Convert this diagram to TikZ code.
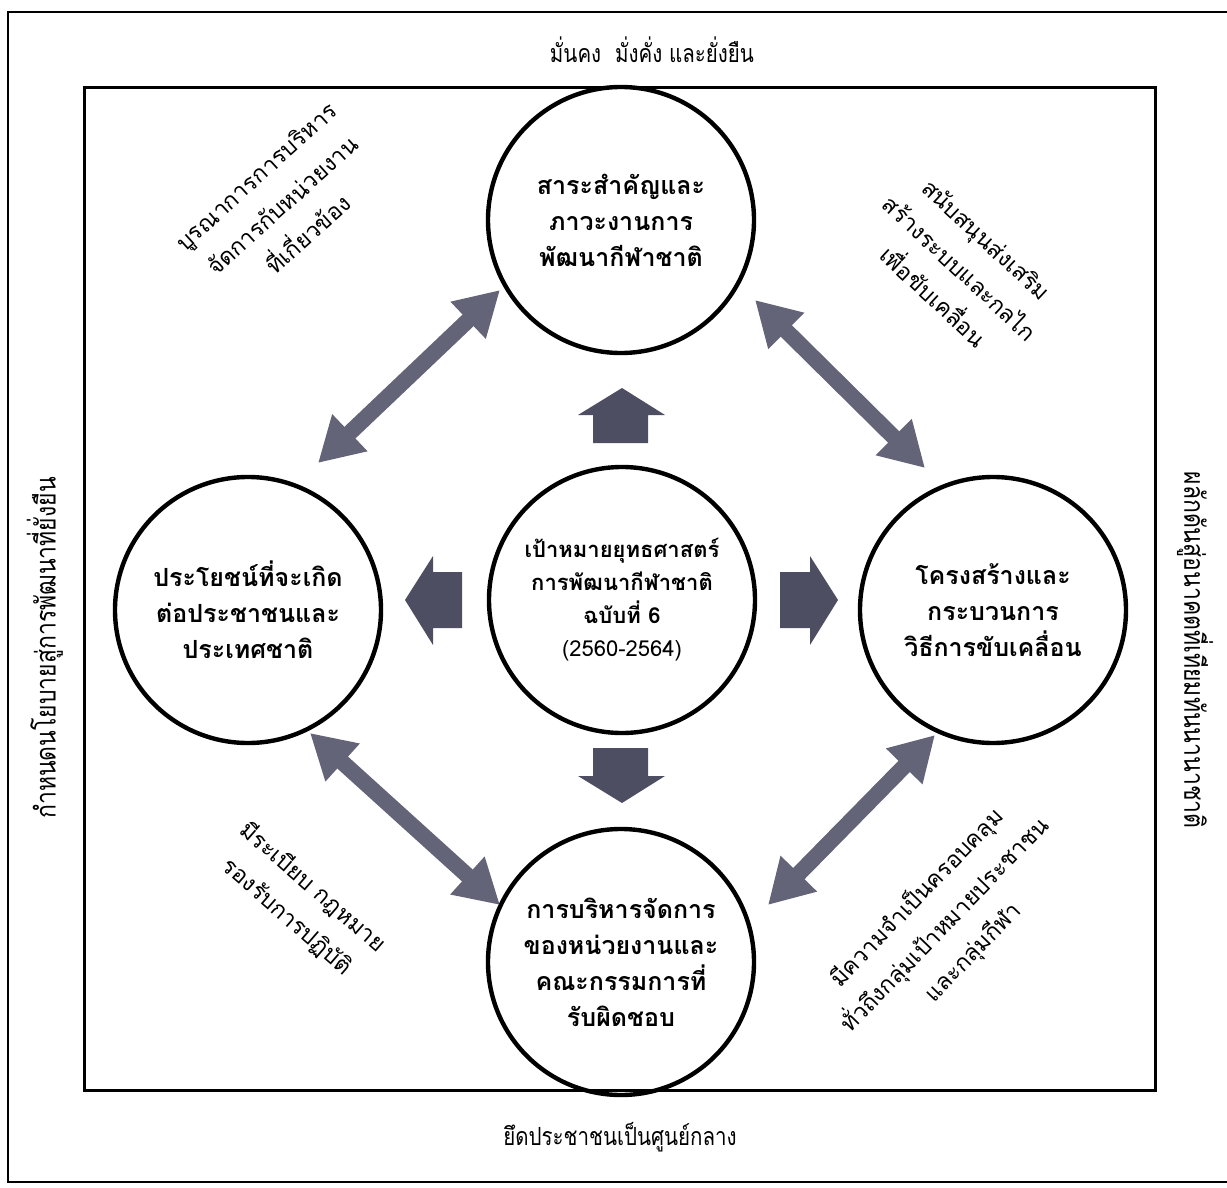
\documentclass[tikz,border=0pt]{standalone}
\usepackage{fontspec}
\newfontfamily\thai[Script=Thai]{Loma}
\newfontfamily\thaicond[Script=Thai,FakeStretch=0.82]{Loma}
\usetikzlibrary{arrows.meta}
\definecolor{arrcol}{RGB}{100,100,120}
\definecolor{blkcol}{RGB}{78,78,98}
\tikzset{
  circ/.style={circle, draw, line width=2.2pt, minimum size=133pt, inner sep=0pt,
    align=center, font=\thai\bfseries\fontsize{12.5}{18}\selectfont},
  centrecirc/.style={circ, font=\thai\bfseries\fontsize{11}{16.5}\selectfont},
  dbl/.style={draw=arrcol, line width=8pt,
    {Triangle[length=22pt,width=24pt,fill=arrcol]}-{Triangle[length=22pt,width=24pt,fill=arrcol]}},
  blk/.style={fill=blkcol},
  diag/.style={align=center, inner sep=0pt, font=\thai\fontsize{11.5}{19.5}\selectfont},
  edgetxt/.style={inner sep=0pt, font=\thaicond\fontsize{12.5}{15}\selectfont},
  sidetxt/.style={inner sep=0pt, font=\thaicond\fontsize{14}{16}\selectfont}
}
\begin{document}
\begin{tikzpicture}[x=0.5pt,y=-0.5pt]
\useasboundingbox (0,0) rectangle (1227,1188);
% frames
\draw[line width=1.3pt] (1227,12) -- (8,12) -- (8,1182) -- (1227,1182);
\draw[line width=1.5pt] (84,88) rectangle (1155,1090);
% edge texts
\node[edgetxt] (toptxt) at (652,50) {มั่นคง\ \ มั่งคั่ง และยั่งยืน};
\node[edgetxt] (bottxt) at (620,1137) {ยึดประชาชนเป็นศูนย์กลาง};
\node[sidetxt, rotate=90] (lefttxt) at (45,648) {กำหนดนโยบายสู่การพัฒนาที่ยั่งยืน};
\node[sidetxt, rotate=-90] (righttxt) at (1195,650) {ผลักดันสู่อนาคตที่เทียมทันนานาชาติ};
% circles
\node[circ] (T) at (621,220) {สาระสำคัญและ\\ภาวะงานการ\\พัฒนากีฬาชาติ};
\node[circ] (L) at (248,610) {ประโยชน์ที่จะเกิด\\ต่อประชาชนและ\\ประเทศชาติ};
\node[centrecirc] (C) at (622,600) {เป้าหมายยุทธศาสตร์\\การพัฒนากีฬาชาติ\\ฉบับที่ 6\\{\mdseries (2560-2564)}};
\node[circ] (R) at (993,610) {โครงสร้างและ\\กระบวนการ\\วิธีการขับเคลื่อน};
\node[circ] (B) at (621,962) {การบริหารจัดการ\\ของหน่วยงานและ\\คณะกรรมการที่\\รับผิดชอบ};
% block arrows around centre
\fill[blk] (593,443) -- (593,415) -- (578,415) -- (622,388) -- (665,415) -- (648,415) -- (648,443) -- cycle;
\fill[blk] (593,748) -- (593,776) -- (578,776) -- (622,803) -- (665,776) -- (648,776) -- (648,748) -- cycle;
\fill[blk] (462,572) -- (433,572) -- (433,556) -- (405,600) -- (433,645) -- (433,628) -- (462,628) -- cycle;
\fill[blk] (780,572) -- (810,572) -- (810,556) -- (838,600) -- (810,645) -- (810,628) -- (780,628) -- cycle;
% diagonal double arrows
\coordinate (tlA) at (318,463); \coordinate (tlB) at (500,290);
\coordinate (trA) at (755,300); \coordinate (trB) at (925,468);
\coordinate (blA) at (310,733); \coordinate (blB) at (500,905);
\coordinate (brA) at (935,735); \coordinate (brB) at (768,905);
\draw[dbl] (tlA) -- (tlB);
\draw[dbl] (trA) -- (trB);
\draw[dbl] (blA) -- (blB);
\draw[dbl] (brA) -- (brB);
% diagonal texts
\node[diag, rotate=42] (tltxt) at (282,205) {บูรณาการการบริหาร\\จัดการกับหน่วยงาน\\ที่เกี่ยวข้อง};
\node[diag, rotate=-43] (trtxt) at (960,268) {สนับสนุนส่งเสริม\\สร้างระบบและกลไก\\เพื่อขับเคลื่อน};
\node[diag, rotate=-41] (bltxt) at (300,902) {มีระเบียบ กฎหมาย\\รองรับการปฏิบัติ};
\node[diag, rotate=46] (brtxt) at (945,925) {มีความจำเป็นครอบคลุม\\ทั่วถึงกลุ่มเป้าหมายประชาชน\\และกลุ่มกีฬา};
\end{tikzpicture}
\end{document}
